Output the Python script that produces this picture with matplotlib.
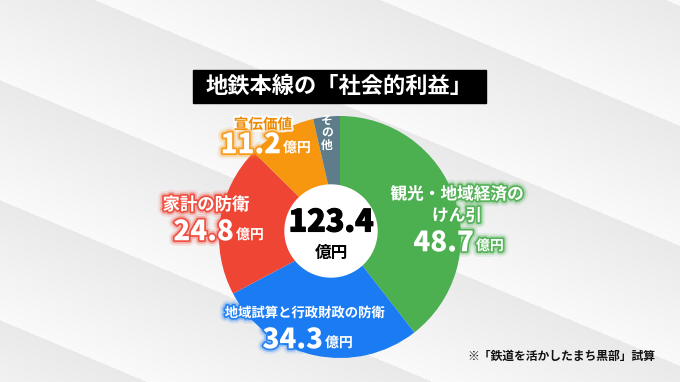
import numpy as np
import matplotlib
matplotlib.use("Agg")
import matplotlib.pyplot as plt
import matplotlib.patheffects as pe
from matplotlib.patches import Circle, Rectangle

plt.rcParams['font.family'] = ['Noto Sans CJK JP', 'DejaVu Sans']

# data
title = "地鉄本線の「社会的利益」"
labels = ["観光・地域経済の\nけん引", "地域試算と行政財政の防衛", "家計の防衛", "宣伝価値", "その他"]
values = [48.7, 34.3, 24.8, 11.2, 4.4]
total = 123.4
colors = ["#4CAF50", "#1A7BF2", "#EF4535", "#F7960F", "#5F7C8A"]
note = "※「鉄道を活かしたまち黒部」試算"

W, H = 680, 382
fig = plt.figure(figsize=(6.8, 3.82), dpi=100)

# striped light gray background
bg = fig.add_axes([0, 0, 1, 1])
yy, xx = np.mgrid[0:H, 0:W]
phase = ((yy - 0.42 * xx + 40) % 120) / 120.0
shade = 0.915 + 0.065 * phase
bg.imshow(np.dstack([shade, shade, shade * 1.005]).clip(0, 1), extent=(0, W, H, 0), aspect='auto')
bg.axis('off')

ax = fig.add_axes([0, 0, 1, 1])
ax.patch.set_alpha(0)
cx, cy, r = 340, H - 237, 121
ax.pie(values, colors=colors, startangle=90, counterclock=False,
       center=(cx, cy), radius=r, wedgeprops=dict(linewidth=0))
ax.add_patch(Circle((331, H - 231), 46, color='white', zorder=3))
ax.set_xlim(0, W)
ax.set_ylim(0, H)
ax.set_aspect('equal')
ax.axis('off')

# title box
ax.add_patch(Rectangle((193, H - 103), 293, 33, color='black', zorder=4))
ax.text(339.5, H - 86.5, title, color='white', fontsize=16, fontweight='bold',
        ha='center', va='center', zorder=5)

# center total
ax.text(331, H - 222, f"{total}", fontsize=22, fontweight='black', ha='center', va='center', zorder=5,
        path_effects=[pe.withStroke(linewidth=0.8, foreground='black')])
ax.text(331, H - 253, "億円", fontsize=12, fontweight='bold', ha='center', va='center', zorder=5)


def glow(col):
    return [pe.withStroke(linewidth=8, foreground=col, alpha=0.12),
            pe.withStroke(linewidth=5, foreground=col, alpha=0.3),
            pe.withStroke(linewidth=2.5, foreground=col, alpha=0.9)]


def value_label(x, y, v, col, big=20):
    t = ax.text(x, y, f"{v}", fontsize=big, fontweight='black', color='white',
                ha='right', va='center', zorder=6, path_effects=glow(col))
    ax.text(x + 2, y - 3, "億円", fontsize=10, fontweight='bold', color='white',
            ha='left', va='center', zorder=6, path_effects=glow(col))
    return t


# green
ax.text(457, H - 205, labels[0], fontsize=12, fontweight='bold', color='white', ha='center',
        va='center', linespacing=1.25, zorder=6, path_effects=glow(colors[0]))
value_label(474, H - 243, values[0], colors[0])

# blue
ax.text(305, H - 313, labels[1], fontsize=9.6, fontweight='bold', color='white', ha='center',
        va='center', zorder=6, path_effects=glow(colors[1]))
value_label(323, H - 340, values[1], colors[1])

# red
ax.text(206, H - 205, labels[2], fontsize=12.5, fontweight='bold', color='white', ha='center',
        va='center', zorder=6, path_effects=glow(colors[2]))
value_label(234, H - 232, values[2], colors[2])

# orange
ax.text(263, H - 124, labels[3], fontsize=10.5, fontweight='bold', color='#EE8A00', ha='center',
        va='center', zorder=6, path_effects=[pe.withStroke(linewidth=3, foreground='white', alpha=0.9)])
value_label(281, H - 145, values[3], colors[3])

# gray (vertical)
ax.text(327, H - 133, "\n".join(labels[4]), fontsize=8.5, fontweight='bold', color='white',
        ha='center', va='center', linespacing=0.95, zorder=6)

# footnote
ax.text(655, H - 356, note, fontsize=8.5, fontweight='bold', color='#111111',
        ha='right', va='center', zorder=6)

fig.savefig("out.png", dpi=100)
